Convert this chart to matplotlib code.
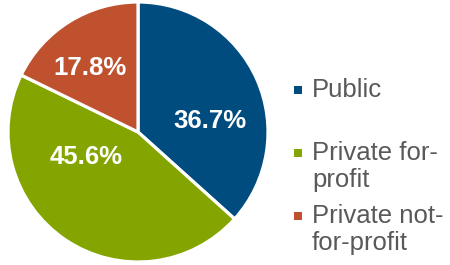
import matplotlib.pyplot as plt

categories = ['Public', 'Private for-\nprofit', 'Private not-\nfor-profit']
shares = [36.7, 45.6, 17.8]
colors = ['#014C7E', '#84A500', '#C0512F']

# label placement (data coords of the pie, radius 1)
label_xy = [(0.55, 0.085), (-0.40, -0.19), (-0.37, 0.49)]

plt.rcParams['font.family'] = ['Liberation Sans', 'DejaVu Sans']

fig = plt.figure(figsize=(4.5, 2.65), dpi=100)

ax = fig.add_axes([8 / 450, 3 / 265, 260 / 450, 260 / 265])
wedges, texts, autotexts = ax.pie(
    shares, colors=colors, startangle=90, counterclock=False,
    autopct='%1.1f%%', pctdistance=0.6,
    wedgeprops=dict(edgecolor='white', linewidth=2.3),
    textprops=dict(color='white', fontsize=18.5, fontweight='bold'))
for t, xy in zip(autotexts, label_xy):
    t.set_position(xy)
ax.set_xlim(-1.0, 1.0)
ax.set_ylim(-1.0, 1.0)
ax.set_aspect('equal')

# legend drawn in pixel coordinates so markers line up with first text line
lax = fig.add_axes([0, 0, 1, 1])
lax.set_xlim(0, 450)
lax.set_ylim(265, 0)
lax.axis('off')
baselines = [97, 160, 223]
line_gap = 27
for name, c, yb in zip(categories, colors, baselines):
    lax.scatter([298], [yb - 7.5], marker='s', s=28, color=c, linewidths=0)
    for i, line in enumerate(name.split('\n')):
        lax.text(312, yb + i * line_gap, line, fontsize=18.5, color='#595959',
                 va='baseline', ha='left')

fig.savefig('out.png', dpi=100)
